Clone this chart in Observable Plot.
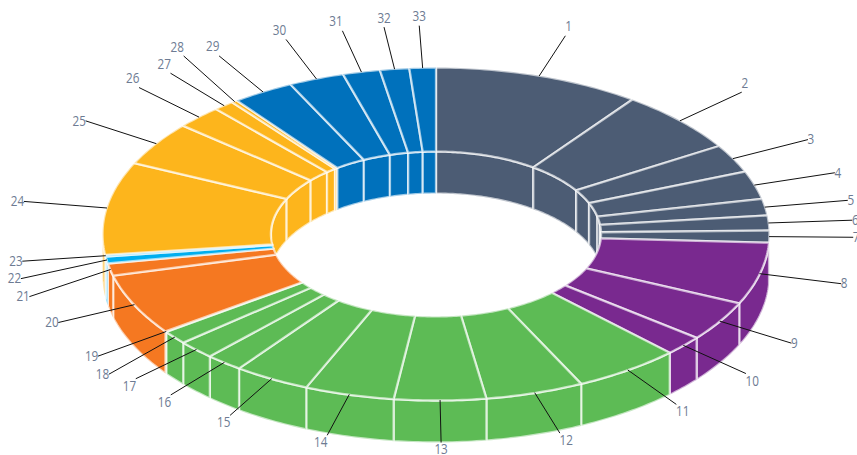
<!DOCTYPE html>
<html>
<head>
<meta charset="utf-8">
<script src="https://cdn.jsdelivr.net/npm/d3@7"></script>
<script src="https://cdn.jsdelivr.net/npm/@observablehq/plot@0.6"></script>
<style>html,body{margin:0;padding:0;background:#fff;overflow:hidden}svg{display:block}</style>
</head>
<body>
<div id="chart"></div>
<script>
const labels = d3.range(1, 34).map(String);
// Slice sizes, in degrees of the full ring
const values = [36.1,22.0,9.9,9.8,5.8,5.2,4.2,21.6,14.0,6.9,18.7,17.1,16.0,15.6,13.3,6.5,6.6,4.7,0.2,21.3,4.3,2.4,0.6,32.4,15.4,8.1,3.6,1.0,10.8,9.7,6.5,5.1,4.6];
const groups = ["slate","slate","slate","slate","slate","slate","slate","purple","purple","purple","green","green","green","green","green","green","green","green","green","orange","orange","sky","sky","amber","amber","amber","amber","amber","blue","blue","blue","blue","blue"];
const groupNames = ["slate","purple","green","orange","sky","amber","blue"];
const groupColors = ["#4c5c74","#79298f","#5dbb55","#f57821","#00aeef","#fdb51c","#0071bc"];

const W = 857, H = 455;
const cx = 435.5, cy = 233.5, rx = 333.5, ry = 166.5;
const hole = 0.495, depth = 42 / ry, leaderR = 1.25;
// Labels the original moved apart to avoid collisions: shift of the leader end, in px
const leaderNudge = {18: [0, 11], 21: [1, 18], 22: [-3, 12], 28: [0, -12]};

const total = d3.sum(values);
let acc = 0;
const slices = values.map((v, i) => {
  const a0 = acc / total * 2 * Math.PI; acc += v;
  const a1 = acc / total * 2 * Math.PI;
  return {i, label: labels[i], group: groups[i], a0, a1, mid: (a0 + a1) / 2};
});
const pt = (a, r, drop = 0) => ({x: r * Math.sin(a), y: r * Math.cos(a) - drop});
const arc = (a0, a1, r, drop = 0) => {
  const n = Math.max(1, Math.ceil((a1 - a0) / 0.015));
  return d3.range(n + 1).map(k => pt(a0 + (a1 - a0) * k / n, r, drop));
};
const poly = (id, group, pts) => pts.map(p => ({...p, id, group}));

const innerWalls = [], outerWalls = [], faces = [];
for (const s of slices) {
  faces.push(...poly("f" + s.i, s.group, [...arc(s.a0, s.a1, 1), ...arc(s.a0, s.a1, hole).reverse()]));
  const o0 = Math.max(s.a0, Math.PI / 2), o1 = Math.min(s.a1, 3 * Math.PI / 2);
  if (o1 > o0) outerWalls.push(...poly("o" + s.i, s.group, [...arc(o0, o1, 1), ...arc(o0, o1, 1, depth).reverse()]));
  for (const [lo, hi] of [[0, Math.PI / 2], [3 * Math.PI / 2, 2 * Math.PI]]) {
    const n0 = Math.max(s.a0, lo), n1 = Math.min(s.a1, hi);
    if (n1 > n0) innerWalls.push(...poly("n" + s.i + lo, s.group, [...arc(n0, n1, hole), ...arc(n0, n1, hole, depth).reverse()]));
  }
}
const leaderEnd = s => {
  const p = pt(s.mid, leaderR), [nx, ny] = leaderNudge[s.label] || [0, 0];
  return {x: p.x + nx / rx, y: p.y - ny / ry};
};
const leaders = slices.flatMap(s => [{...pt(s.mid, 1), id: s.i}, {...leaderEnd(s), id: s.i}]);
const deg = a => a * 180 / Math.PI;
const tags = slices.map(s => {
  const d = deg(s.mid);
  const nearVertical = d > 350 || d < 5 || Math.abs(d - 180) < 5;
  return {
    ...leaderEnd(s), label: s.label,
    anchor: nearVertical ? "middle" : d < 180 ? "start" : "end",
    row: (d < 55 || d > 305) ? "top" : (d > 125 && d < 230) ? "bottom" : "mid"
  };
});
const ringStyle = {
  x: "x", y: "y", z: "id", fill: "group", curve: "linear-closed",
  stroke: "#fff", strokeOpacity: 0.64, strokeWidth: 2.3, strokeLinejoin: "round"
};
const rowDy = {top: -9.5, mid: 0, bottom: 7.5};
const textMarks = ["start", "middle", "end"].flatMap(anchor =>
  ["top", "mid", "bottom"].map(row => Plot.text(tags.filter(t => t.anchor === anchor && t.row === row), {
    x: "x", y: "y", text: "label", textAnchor: anchor, dy: rowDy[row], lineAnchor: "middle",
    fill: "#6d7b93", fontSize: 15
  }))
);
const chart = Plot.plot({
  width: W, height: H, margin: 0,
  style: {fontFamily: "'Open Sans','Noto Sans',sans-serif", background: "#fff"},
  x: {domain: [-cx / rx, (W - cx) / rx], range: [0, W], axis: null},
  y: {domain: [(cy - H) / ry, cy / ry], range: [H, 0], axis: null},
  color: {domain: groupNames, range: groupColors},
  marks: [
    Plot.line(innerWalls, ringStyle),
    Plot.line(outerWalls, ringStyle),
    Plot.line(faces, ringStyle),
    Plot.line(leaders, {x: "x", y: "y", z: "id", stroke: "#111", strokeWidth: 1}),
    ...textMarks
  ]
});
// Condense the glyphs to the narrow face of the original
d3.select(chart).selectAll("text").each(function () {
  this.setAttribute("textLength", this.textContent.length * 6.7);
  this.setAttribute("lengthAdjust", "spacingAndGlyphs");
});
document.getElementById("chart").append(chart);
</script>
</body>
</html>
